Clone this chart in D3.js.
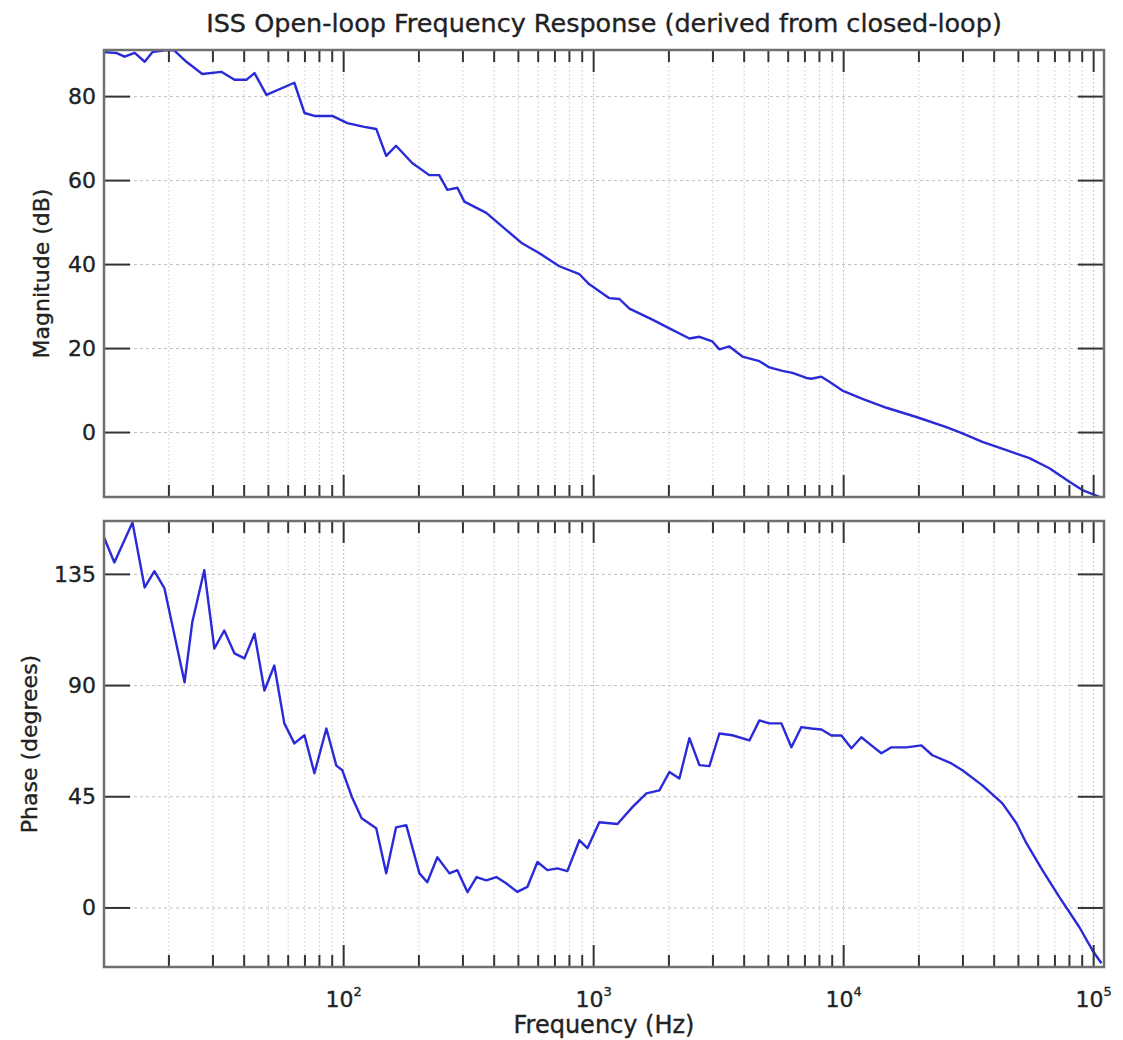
<!DOCTYPE html>
<html>
<head>
<meta charset="utf-8">
<script src="https://cdn.jsdelivr.net/npm/d3@7"></script>
<style>
  body { margin: 0; background: #fff; }
  text { font-family: "DejaVu Sans", sans-serif; fill: #222; stroke: #222; stroke-width: 0.35px; }
</style>
</head>
<body>
<div id="chart"></div>
<script>
// 周波数 (Hz) と振幅 (dB)
const magFreq = [11, 12.3, 13.3, 14.6, 16.0, 17.2, 19.2, 21.0, 23.5, 27.2, 32.4, 36.6, 40.8, 44.0, 49.1,
  63.5, 69.7, 76.4, 90.1, 103.5, 121, 135, 148, 162, 188, 220, 241, 260, 285, 304, 372, 448, 519, 607,
  729, 877, 961, 1156, 1268, 1390, 1718, 2009, 2415, 2649, 2985, 3184, 3491, 3936, 4603, 5047, 5689,
  6237, 7096, 7430, 8147, 8770, 9886, 11890, 14830, 19540, 25760, 29850, 35890, 44770, 55340, 66530,
  79980, 90150, 105400];
const magDb = [90.6, 90.4, 89.5, 90.4, 88.3, 90.6, 91.0, 91.0, 88.3, 85.4, 85.9, 84.0, 84.0, 85.6, 80.4,
  83.3, 76.1, 75.4, 75.4, 73.7, 72.8, 72.3, 65.9, 68.3, 64.2, 61.3, 61.3, 57.8, 58.3, 55.0, 52.3, 48.2, 45.0, 42.7,
  39.6, 37.7, 35.3, 32.0, 31.8, 29.5, 26.9, 24.8, 22.4, 22.8, 21.7, 19.8, 20.5, 18.1, 17.0, 15.5, 14.7,
  14.2, 13.0, 12.8, 13.3, 12.1, 10.0, 8.0, 5.9, 3.7, 1.3, -0.2, -2.2, -4.2, -6.1, -8.5,
  -11.7, -13.7, -15.3];

// 周波数 (Hz) と位相 (度)
const phaseFreq = [11, 12.1, 14.3, 16.0, 17.5, 19.2, 23.1, 24.8, 27.7, 30.4, 33.3, 36.6, 40.1, 44.0, 48.2,
  52.8, 57.9, 63.5, 69.7, 76.4, 85.3, 93.5, 98.8, 108, 118, 135, 148, 162, 178, 201, 216, 237, 265, 285,
  313, 340, 372, 408, 448, 495, 543, 596, 653, 716, 785, 877, 944, 1054, 1245, 1429, 1626, 1832, 2009,
  2203, 2415, 2649, 2904, 3184, 3589, 4198, 4603, 5047, 5636, 6180, 6776, 7430, 8147, 8933, 9795, 10740,
  11770, 12910, 14150, 15520, 17820, 20460, 22640, 26980, 29850, 35890, 43150, 49090, 53830, 62370,
  72950, 87700, 98850, 107400];
const phaseDeg = [150, 139.8, 156, 129.7, 136.3, 129.3, 91.3, 115.6, 136.7, 105, 112.3, 103, 101, 111, 88,
  98.1, 74.7, 66.6, 69.9, 54.5, 72.6, 57.6, 55.7, 44.8, 36.3, 32.3, 14, 32.6, 33.5, 14, 10.4, 20.5, 14, 15.3,
  6.4, 12.5, 11.2, 12.5, 9.9, 6.5, 8.5, 18.6, 15.3, 16, 14.9, 27.4, 24.2, 34.7, 34, 40.8, 46.4, 47.6, 55,
  52.4, 68.7, 57.8, 57.4, 70.6, 69.9, 67.8, 75.9, 74.7, 74.7, 65, 73.2, 72.6, 72.2, 69.8, 69.8, 64.6,
  69.1, 65.8, 62.6, 65, 65, 65.8, 61.8, 58.5, 55.7, 49.6, 42.3, 34.3, 26.2, 15.3,
  4.4, -7.8, -17.1, -22.4];

const magTicks = [0, 20, 40, 60, 80];
const phaseTicks = [0, 45, 90, 135];
const decadeTicks = [100, 1000, 10000, 100000];

const title = "ISS Open-loop Frequency Response (derived from closed-loop)";

const width = 1123, height = 1040;
const left = 104, right = 1104;

const svg = d3.select("#chart").append("svg").attr("width", width).attr("height", height);

const x = d3.scaleLog().domain([11, 110000]).range([left, right]);
const allTicks = x.ticks(); // 20,30,...,100,200,...

const drawPanel = (id, top, bottom, yDomain, yTicks, xs, ys, yLabel, labelX, showX) => {
	let y = d3.scaleLinear().domain(yDomain).range([bottom, top]);
	let g = svg.append("g");

	svg.append("clipPath").attr("id", "clip" + id)
		.append("rect").attr("x", left).attr("y", top).attr("width", right - left).attr("height", bottom - top);

	// グリッド
	g.selectAll(".vgrid").data(allTicks).enter().append("line")
		.attr("x1", d => x(d)).attr("x2", d => x(d)).attr("y1", top).attr("y2", bottom)
		.attr("stroke", d => decadeTicks.includes(d) ? "#aaa" : "#c8c8c8")
		.attr("stroke-width", 1).attr("stroke-dasharray", "1.5,2.5");
	g.selectAll(".hgrid").data(yTicks).enter().append("line")
		.attr("x1", left).attr("x2", right).attr("y1", d => y(d)).attr("y2", d => y(d))
		.attr("stroke", "#c0c0c0").attr("stroke-width", 1).attr("stroke-dasharray", "3,3");

	// データ線
	let line = d3.line().x((d, i) => x(xs[i])).y(d => y(d));
	g.append("path").datum(ys)
		.attr("clip-path", "url(#clip" + id + ")")
		.attr("d", line).attr("fill", "none")
		.attr("stroke", "#2a2ad8").attr("stroke-width", 2.4).attr("stroke-linejoin", "round");

	// 目盛り（内向き）
	const tickSz = d => decadeTicks.includes(d) ? 22 : 12;
	let tk = g.append("g").attr("stroke", "#333").attr("stroke-width", 2);
	allTicks.forEach(d => {
		tk.append("line").attr("x1", x(d)).attr("x2", x(d)).attr("y1", bottom).attr("y2", bottom - tickSz(d));
		tk.append("line").attr("x1", x(d)).attr("x2", x(d)).attr("y1", top).attr("y2", top + tickSz(d));
	});
	yTicks.forEach(d => {
		tk.append("line").attr("x1", left).attr("x2", left + 26).attr("y1", y(d)).attr("y2", y(d));
		tk.append("line").attr("x1", right - 26).attr("x2", right).attr("y1", y(d)).attr("y2", y(d));
	});

	// 枠
	g.append("rect").attr("x", left).attr("y", top).attr("width", right - left).attr("height", bottom - top)
		.attr("fill", "none").attr("stroke", "#707070").attr("stroke-width", 2.5);

	// y軸ラベル
	let yAxis = d3.axisLeft(y).tickValues(yTicks).tickSize(0).tickPadding(8);
	let ya = g.append("g").attr("transform", "translate(" + left + ",0)").call(yAxis);
	ya.select(".domain").remove();
	ya.selectAll("text").style("font-size", "22px").style("font-family", "DejaVu Sans")
		.attr("fill", "#222").attr("stroke", "#222").attr("stroke-width", 0.35);

	g.append("text")
		.attr("transform", "translate(" + labelX + "," + (top + bottom) / 2 + ") rotate(-90)")
		.attr("text-anchor", "middle").style("font-size", "22px").text(yLabel);

	if (showX) {
		let lab = g.selectAll(".xlab").data(decadeTicks).enter().append("text")
			.attr("x", d => x(d)).attr("y", bottom + 40)
			.attr("text-anchor", "middle").style("font-size", "22px");
		lab.append("tspan").text("10");
		lab.append("tspan").attr("dy", -11).style("font-size", "13px").text(d => Math.round(Math.log10(d)));
		g.append("text").attr("x", (left + right) / 2).attr("y", bottom + 66)
			.attr("text-anchor", "middle").style("font-size", "24px").text("Frequency (Hz)");
	}
};

svg.append("text").attr("x", (left + right) / 2).attr("y", 32)
	.attr("text-anchor", "middle").style("font-size", "25.5px").text(title);

drawPanel("mag", 50, 497, [-15.35, 91.1], magTicks, magFreq, magDb, "Magnitude (dB)", 49, false);
drawPanel("ph", 521, 967, [-23.9, 156.6], phaseTicks, phaseFreq, phaseDeg, "Phase (degrees)", 37, true);
</script>
</body>
</html>
